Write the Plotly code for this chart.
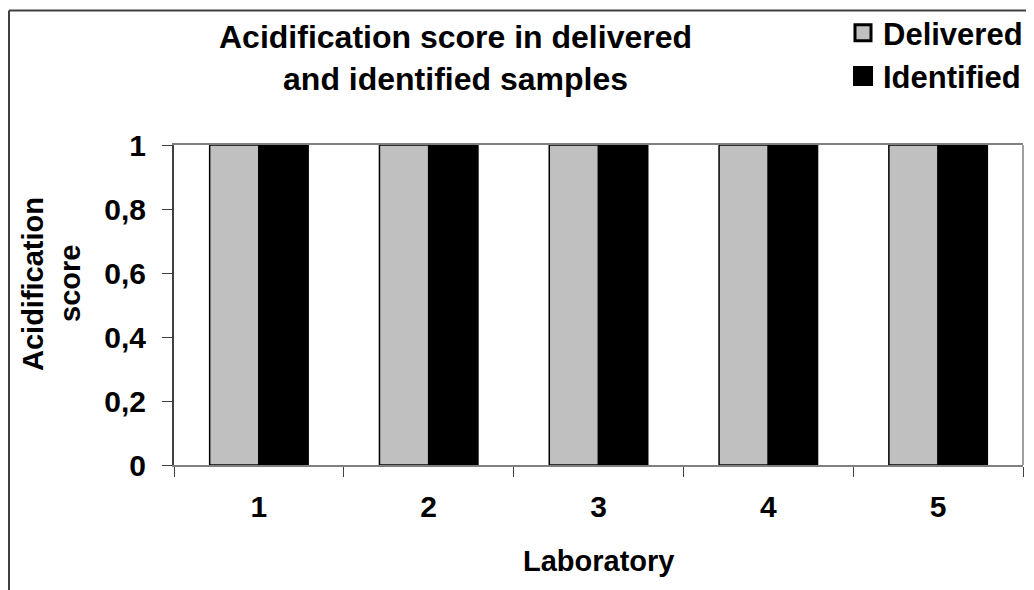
import plotly.graph_objects as go

laboratories = ["1", "2", "3", "4", "5"]
delivered = [1, 1, 1, 1, 1]
identified = [1, 1, 1, 1, 1]
y_tick_vals = [0, 0.2, 0.4, 0.6, 0.8, 1]
y_tick_labels = ["0", "0,2", "0,4", "0,6", "0,8", "1"]

FONT = "Liberation Sans, Arial, sans-serif"

fig = go.Figure()
fig.add_trace(go.Bar(x=laboratories, y=delivered, name="Delivered",
                     marker=dict(color="#C0C0C0", line=dict(color="#000000", width=1.5)),
                     showlegend=False))
fig.add_trace(go.Bar(x=laboratories, y=identified, name="Identified",
                     marker=dict(color="#000000", line=dict(color="#000000", width=1.5)),
                     showlegend=False))
# legend entries
fig.add_trace(go.Scatter(x=[None], y=[None], mode="markers", name="Delivered",
                         marker=dict(symbol="square", size=16, color="#C0C0C0",
                                     line=dict(color="#000000", width=3))))
fig.add_trace(go.Scatter(x=[None], y=[None], mode="markers", name="Identified",
                         marker=dict(symbol="square", size=16, color="#000000",
                                     line=dict(color="#000000", width=4))))

# plot-area edges in figure pixels
L, R, T, B = 166, 1015, 137, 457
pw, ph = R - L, B - T


def px(xp):
    return (xp - L) / pw


def py(yp):
    return (B - yp) / ph


fig.update_layout(
    width=1034, height=590,
    margin=dict(l=L, r=1034 - R, t=T, b=590 - B, autoexpand=False),
    paper_bgcolor="white", plot_bgcolor="white",
    barmode="group", bargap=0.42, bargroupgap=0,
    separators=",.",
    font=dict(family=FONT, color="#000000"),
    legend=dict(x=px(835), xanchor="left", y=py(-2), yanchor="top",
                font=dict(size=31, family=FONT, weight="bold"),
                itemsizing="trace", tracegroupgap=0, bgcolor="rgba(0,0,0,0)"),
    xaxis=dict(type="category", showgrid=False, showline=True, linecolor="#808080", linewidth=1.5,
               mirror=True, ticks="outside", tickson="boundaries", ticklen=10, tickcolor="#404040",
               ticklabelstandoff=14,
               tickfont=dict(size=30, family=FONT, weight="bold")),
    yaxis=dict(range=[0, 1], showgrid=False, showline=True, linecolor="#404040", linewidth=2,
               ticks="outside", ticklen=10, tickcolor="#404040", ticklabelstandoff=10,
               tickvals=y_tick_vals, ticktext=y_tick_labels,
               tickfont=dict(size=30, family=FONT, weight="bold")),
    annotations=[
        dict(text="<b>Acidification score in delivered<br>and identified samples</b>",
             xref="paper", yref="paper", x=px(447), y=py(50), xanchor="center", yanchor="middle",
             showarrow=False, font=dict(size=32, family=FONT)),
        dict(text="<b>Acidification</b>", textangle=-90,
             xref="paper", yref="paper", x=px(25), y=py(276), xanchor="center", yanchor="middle",
             showarrow=False, font=dict(size=29, family=FONT)),
        dict(text="<b>score</b>", textangle=-90,
             xref="paper", yref="paper", x=px(62), y=py(276), xanchor="center", yanchor="middle",
             showarrow=False, font=dict(size=29, family=FONT)),
        dict(text="<b>Laboratory</b>",
             xref="paper", yref="paper", x=0.5, y=py(553), xanchor="center", yanchor="middle",
             showarrow=False, font=dict(size=29, family=FONT)),
    ],
    shapes=[
        dict(type="line", xref="paper", yref="paper", x0=1, x1=1, y0=0, y1=1,
             line=dict(color="#808080", width=1.5)),
        dict(type="line", xref="paper", yref="paper", x0=px(1), x1=px(1040), y0=py(2.5), y1=py(2.5),
             line=dict(color="#404040", width=2)),
        dict(type="line", xref="paper", yref="paper", x0=px(1), x1=px(1), y0=py(2.5), y1=py(600),
             line=dict(color="#404040", width=2)),
    ],
)

fig.write_html("out.html")
